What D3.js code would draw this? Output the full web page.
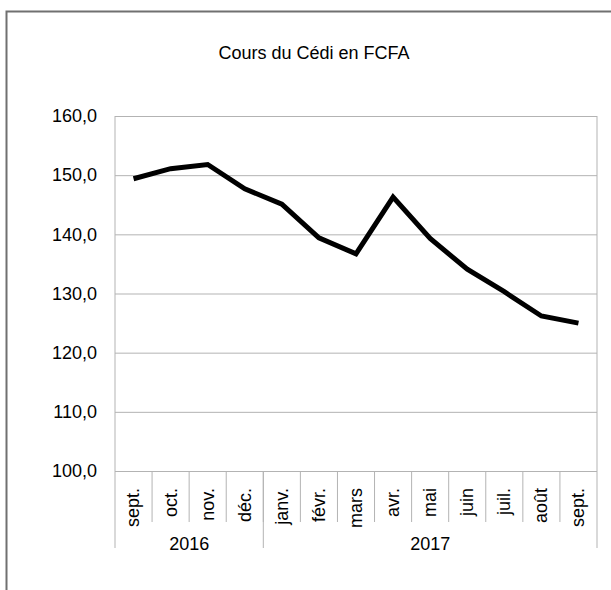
<!DOCTYPE html>
<html lang="fr">

<head>
    <meta charset="UTF-8">
    <title>Cours du Cédi en FCFA</title>
    <style>
        body {
            margin: 0;
            background: #fff;
            font-family: "Liberation Sans", Arial, sans-serif;
        }

        svg text {
            font-family: "Liberation Sans", Arial, sans-serif;
            fill: #000;
        }
    </style>
</head>

<body>
    <svg width="611" height="590"></svg>

    <script src="https://d3js.org/d3.v7.min.js"></script>
    <script>
        // data
        const months = ["sept.", "oct.", "nov.", "déc.", "janv.", "févr.", "mars",
            "avr.", "mai", "juin", "juil.", "août", "sept."];
        const years = ["2016", "2017"];
        const yearSpans = [4, 9]; // number of months under each year
        const cours = [149.4, 151.1, 151.8, 147.7, 145.1, 139.4, 136.7,
            146.3, 139.3, 134.1, 130.3, 126.2, 125.0];
        const yTicks = [100, 110, 120, 130, 140, 150, 160];

        const svg = d3.select("svg");

        // outer frame
        svg.append("rect")
            .attr("x", 6.5)
            .attr("y", 11.5)
            .attr("width", 640)
            .attr("height", 620)
            .attr("fill", "none")
            .attr("stroke", "#707070")
            .attr("stroke-width", 2);

        // title
        svg.append("text")
            .attr("x", 314)
            .attr("y", 59)
            .attr("text-anchor", "middle")
            .style("font-size", "18px")
            .text("Cours du Cédi en FCFA");

        const plotL = 115, plotR = 597, plotT = 116, plotB = 471;

        const x = d3.scaleBand()
            .domain(d3.range(months.length))
            .range([plotL, plotR]);

        const y = d3.scaleLinear()
            .domain([100, 160])
            .range([plotB, plotT]);

        // horizontal grid + y labels
        const yAxis = svg.append("g")
            .attr("transform", `translate(${plotL},0)`)
            .call(d3.axisLeft(y)
                .tickValues(yTicks)
                .tickSize(10)
                .tickPadding(8)
                .tickFormat(d => d3.format(".1f")(d).replace(".", ",")));
        yAxis.select(".domain").remove();
        yAxis.selectAll(".tick line")
            .attr("x2", plotR - plotL)
            .attr("stroke", "#b3b3b3");
        yAxis.selectAll(".tick text")
            .style("font-size", "18px")
            .attr("fill", "#000");

        // vertical axis line and right border of plot
        svg.append("line")
            .attr("x1", plotL).attr("x2", plotL)
            .attr("y1", plotT).attr("y2", 548)
            .attr("stroke", "#b3b3b3");
        svg.append("line")
            .attr("x1", plotR).attr("x2", plotR)
            .attr("y1", plotT).attr("y2", 548)
            .attr("stroke", "#b3b3b3");

        // month separators
        svg.selectAll(".sep")
            .data(d3.range(1, months.length))
            .enter().append("line")
            .attr("class", "sep")
            .attr("x1", d => x(d)).attr("x2", d => x(d))
            .attr("y1", plotB).attr("y2", 522)
            .attr("stroke", "#b3b3b3");

        // month labels
        svg.selectAll(".month")
            .data(months)
            .enter().append("text")
            .attr("class", "month")
            .attr("transform", (d, i) => `translate(${x(i) + x.bandwidth() / 2},488) rotate(-90)`)
            .attr("dy", "0.33em")
            .attr("text-anchor", "end")
            .style("font-size", "18px")
            .text(d => d);

        // year groups
        let start = 0;
        years.forEach((yr, k) => {
            const end = start + yearSpans[k];
            const x0 = x(start), x1 = end < months.length ? x(end) : plotR;
            if (end < months.length) {
                svg.append("line")
                    .attr("x1", x1).attr("x2", x1)
                    .attr("y1", plotB).attr("y2", 548)
                    .attr("stroke", "#b3b3b3");
            }
            svg.append("text")
                .attr("x", (x0 + x1) / 2)
                .attr("y", 550)
                .attr("text-anchor", "middle")
                .style("font-size", "18px")
                .text(yr);
            start = end;
        });

        // the line
        const line = d3.line()
            .x((d, i) => x(i) + x.bandwidth() / 2)
            .y(d => y(d));

        svg.append("path")
            .datum(cours)
            .attr("fill", "none")
            .attr("stroke", "#000")
            .attr("stroke-width", 5)
            .attr("d", line);
    </script>
</body>

</html>
